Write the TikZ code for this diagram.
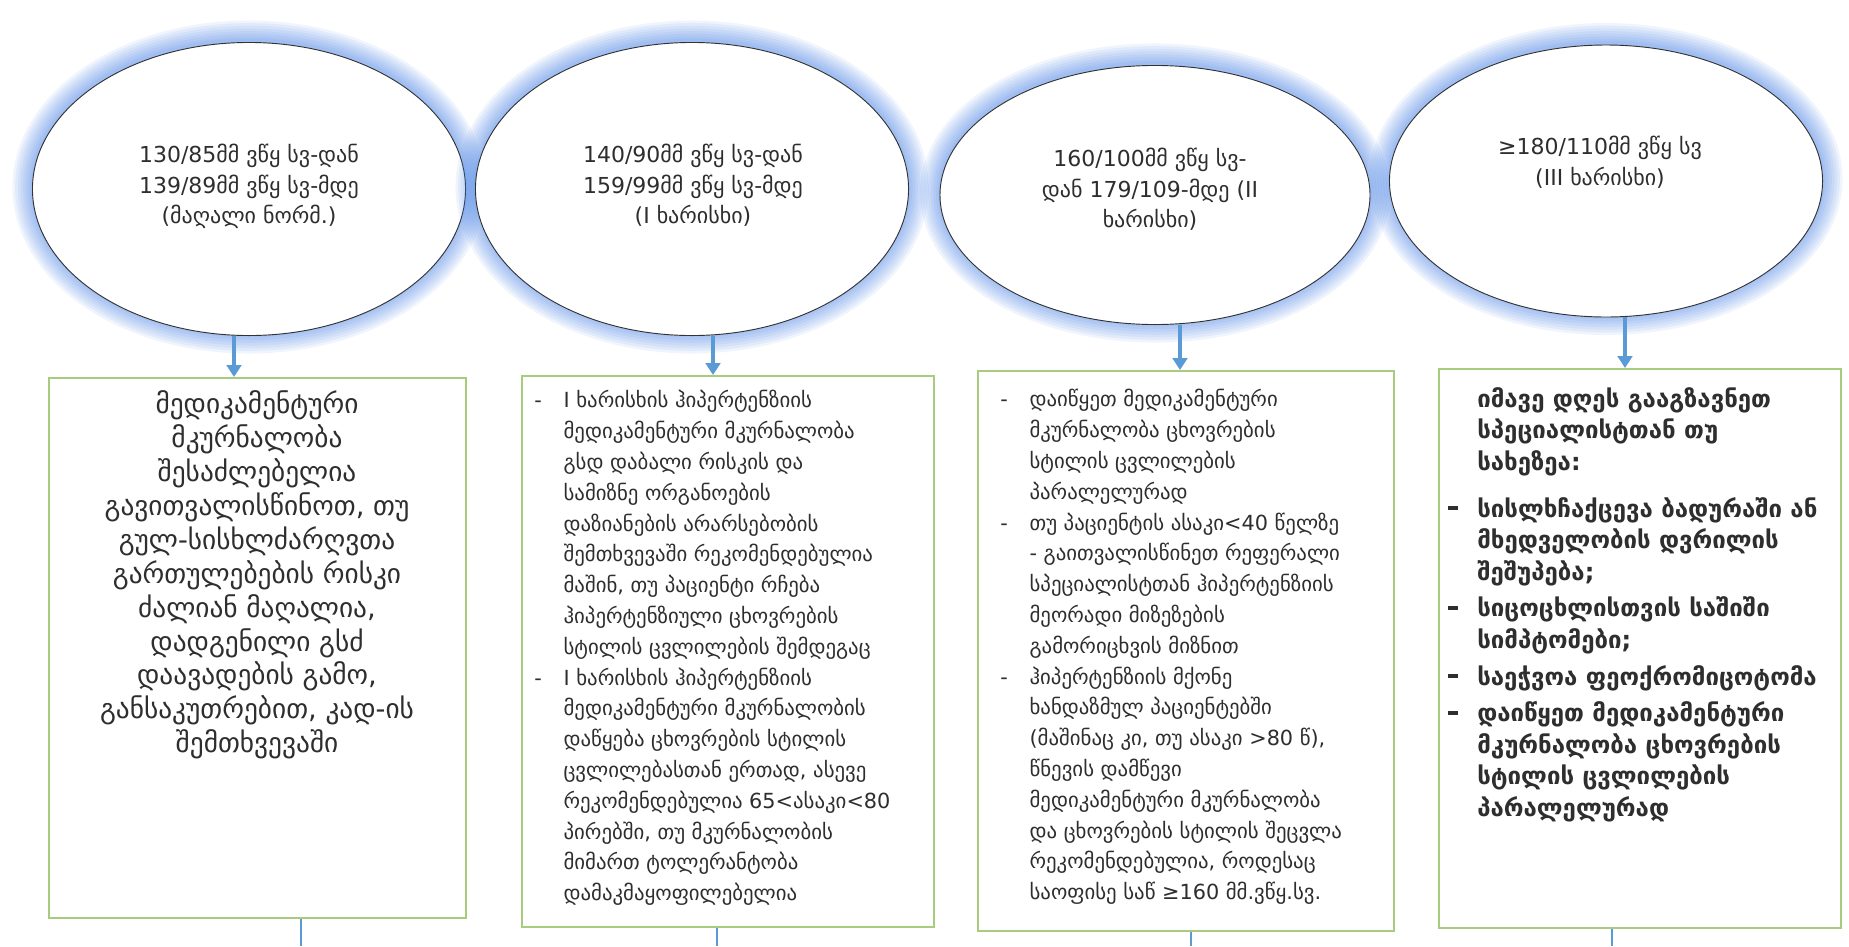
\documentclass[tikz,border=0pt]{standalone}
\usepackage{fontspec}
\setmainfont{DejaVu Sans}
\usetikzlibrary{shapes.geometric,arrows.meta}
\definecolor{glowblue}{HTML}{4A86E8}
\definecolor{arrblue}{HTML}{5B9BD5}
\definecolor{boxgreen}{HTML}{A8CB7E}
\definecolor{txtgray}{HTML}{2E2E2E}
\newcommand{\bulbar}{\rule[0.28em]{0.42em}{0.17em}}
\newcommand{\dsh}{\makebox[22pt][l]{-}}
\newcommand{\bsh}{\makebox[21.75pt][l]{\bulbar}}
\begin{document}
\begin{tikzpicture}[x=0.75pt,y=-0.75pt,
  glw/.style={preaction={draw=glowblue, line width=#1, opacity=0.085, transform canvas={yshift=1.5pt}}},
  ell/.style={ellipse, draw=black!80, line width=0.7pt, fill=white, inner sep=0pt,
     glw=30pt, glw=26pt, glw=22pt, glw=18pt, glw=14pt, glw=10pt, glw=6pt, glw=3pt},
  elltext/.style={inner sep=0pt, text=txtgray, font=\fontsize{16.5}{23}\selectfont},
  bx/.style={rectangle, draw=boxgreen, line width=1.3pt, fill=white, inner sep=0pt, anchor=north west},
  bxtext/.style={inner sep=0pt, text=txtgray},
  arr/.style={draw=arrblue, line width=3pt, -{Triangle[length=9pt,width=11pt]}},
  thinblue/.style={draw=arrblue, line width=1.2pt}
]
\fill[white] (0,0) rectangle (1849,946);
\useasboundingbox (0,0) rectangle (1849,946);

% ellipses
\node[ell, minimum width=324.8pt, minimum height=219.8pt] (E1) at (249,189) {};
\node[ell, minimum width=324.8pt, minimum height=219.8pt] (E2) at (692,189) {};
\node[ell, minimum width=322.5pt, minimum height=194.3pt] (E3) at (1155,195) {};
\node[ell, minimum width=324.8pt, minimum height=204pt] (E4) at (1606,181) {};

\node[elltext] (T1) at (249,187) {\begin{tabular}{@{}c@{}}130/85მმ ვწყ სვ-დან\\139/89მმ ვწყ სვ-მდე\\(მაღალი ნორმ.)\end{tabular}};
\node[elltext] (T2) at (693,187) {\begin{tabular}{@{}c@{}}140/90მმ ვწყ სვ-დან\\159/99მმ ვწყ სვ-მდე\\(I ხარისხი)\end{tabular}};
\node[elltext] (T3) at (1150,191) {\begin{tabular}{@{}c@{}}160/100მმ ვწყ სვ-\\დან 179/109-მდე (II\\ხარისხი)\end{tabular}};
\node[elltext] (T4) at (1600,164) {\begin{tabular}{@{}c@{}}≥180/110მმ ვწყ სვ\\(III ხარისხი)\end{tabular}};

% boxes
\node[bx, minimum width=312.8pt, minimum height=405pt] (B1) at (48,377) {};
\node[bx, minimum width=309pt, minimum height=413.3pt] (B2) at (521,375) {};
\node[bx, minimum width=312pt, minimum height=420pt] (B3) at (977,370) {};
\node[bx, minimum width=301.5pt, minimum height=419.3pt] (B4) at (1438,368) {};

% box texts
\node[bxtext, anchor=north, font=\fontsize{20.5}{25.4}\selectfont] (X1) at (257,390) {\begin{tabular}{@{}c@{}}
მედიკამენტური\\
მკურნალობა\\
შესაძლებელია\\
გავითვალისწინოთ, თუ\\
გულ-სისხლძარღვთა\\
გართულებების რისკი\\
ძალიან მაღალია,\\
დადგენილი გსძ\\
დაავადების გამო,\\
განსაკუთრებით, კად-ის\\
შემთხვევაში\end{tabular}};

\node[bxtext, anchor=north west, font=\fontsize{15.6}{23.1}\selectfont] (X2) at (534,386) {\begin{tabular}{@{}l@{}l@{}}
\dsh & I ხარისხის ჰიპერტენზიის\\
 & მედიკამენტური მკურნალობა\\
 & გსდ დაბალი რისკის და\\
 & სამიზნე ორგანოების\\
 & დაზიანების არარსებობის\\
 & შემთხვევაში რეკომენდებულია\\
 & მაშინ, თუ პაციენტი რჩება\\
 & ჰიპერტენზიული ცხოვრების\\
 & სტილის ცვლილების შემდეგაც\\
\dsh & I ხარისხის ჰიპერტენზიის\\
 & მედიკამენტური მკურნალობის\\
 & დაწყება ცხოვრების სტილის\\
 & ცვლილებასთან ერთად, ასევე\\
 & რეკომენდებულია 65<ასაკი<80\\
 & პირებში, თუ მკურნალობის\\
 & მიმართ ტოლერანტობა\\
 & დამაკმაყოფილებელია\end{tabular}};

\node[bxtext, anchor=north west, font=\fontsize{15.6}{23.1}\selectfont] (X3) at (1000,385) {\begin{tabular}{@{}l@{}l@{}}
\dsh & დაიწყეთ მედიკამენტური\\
 & მკურნალობა ცხოვრების\\
 & სტილის ცვლილების\\
 & პარალელურად\\
\dsh & თუ პაციენტის ასაკი<40 წელზე\\
 & - გაითვალისწინეთ რეფერალი\\
 & სპეციალისტთან ჰიპერტენზიის\\
 & მეორადი მიზეზების\\
 & გამორიცხვის მიზნით\\
\dsh & ჰიპერტენზიის მქონე\\
 & ხანდაზმულ პაციენტებში\\
 & (მაშინაც კი, თუ ასაკი >80 წ),\\
 & წნევის დამწევი\\
 & მედიკამენტური მკურნალობა\\
 & და ცხოვრების სტილის შეცვლა\\
 & რეკომენდებულია, როდესაც\\
 & საოფისე საწ ≥160 მმ.ვწყ.სვ.\end{tabular}};

\node[bxtext, anchor=north west, font=\fontsize{18}{23.6}\selectfont\bfseries] (X4) at (1448,385) {\begin{tabular}{@{}l@{}l@{}}
\makebox[21.75pt]{} & იმავე დღეს გააგზავნეთ\\
 & სპეციალისტთან თუ\\
 & სახეზეა:\\[11.6pt]
\bsh & სისლხჩაქცევა ბადურაში ან\\
 & მხედველობის დვრილის\\
 & შეშუპება;\\[4pt]
\bsh & სიცოცხლისთვის საშიში\\
 & სიმპტომები;\\[4pt]
\bsh & საეჭვოა ფეოქრომიცოტომა\\[4pt]
\bsh & დაიწყეთ მედიკამენტური\\
 & მკურნალობა ცხოვრების\\
 & სტილის ცვლილების\\
 & პარალელურად\end{tabular}};

% arrows from ellipses to boxes
\coordinate (a1) at (234,0);
\coordinate (a2) at (713,0);
\coordinate (a3) at (1180,0);
\coordinate (a4) at (1625,0);
\draw[arr] (E1.south -| a1) -- (B1.north -| a1);
\draw[arr] (E2.south -| a2) -- (B2.north -| a2);
\draw[arr] (E3.south -| a3) -- (B3.north -| a3);
\draw[arr] (E4.south -| a4) -- (B4.north -| a4);

% lines leaving the boxes downward
\coordinate (d1) at (301,946);
\coordinate (d2) at (717,946);
\coordinate (d3) at (1191,946);
\coordinate (d4) at (1612,946);
\draw[thinblue] (B1.south -| d1) -- (d1);
\draw[thinblue] (B2.south -| d2) -- (d2);
\draw[thinblue] (B3.south -| d3) -- (d3);
\draw[thinblue] (B4.south -| d4) -- (d4);
\end{tikzpicture}
\end{document}
